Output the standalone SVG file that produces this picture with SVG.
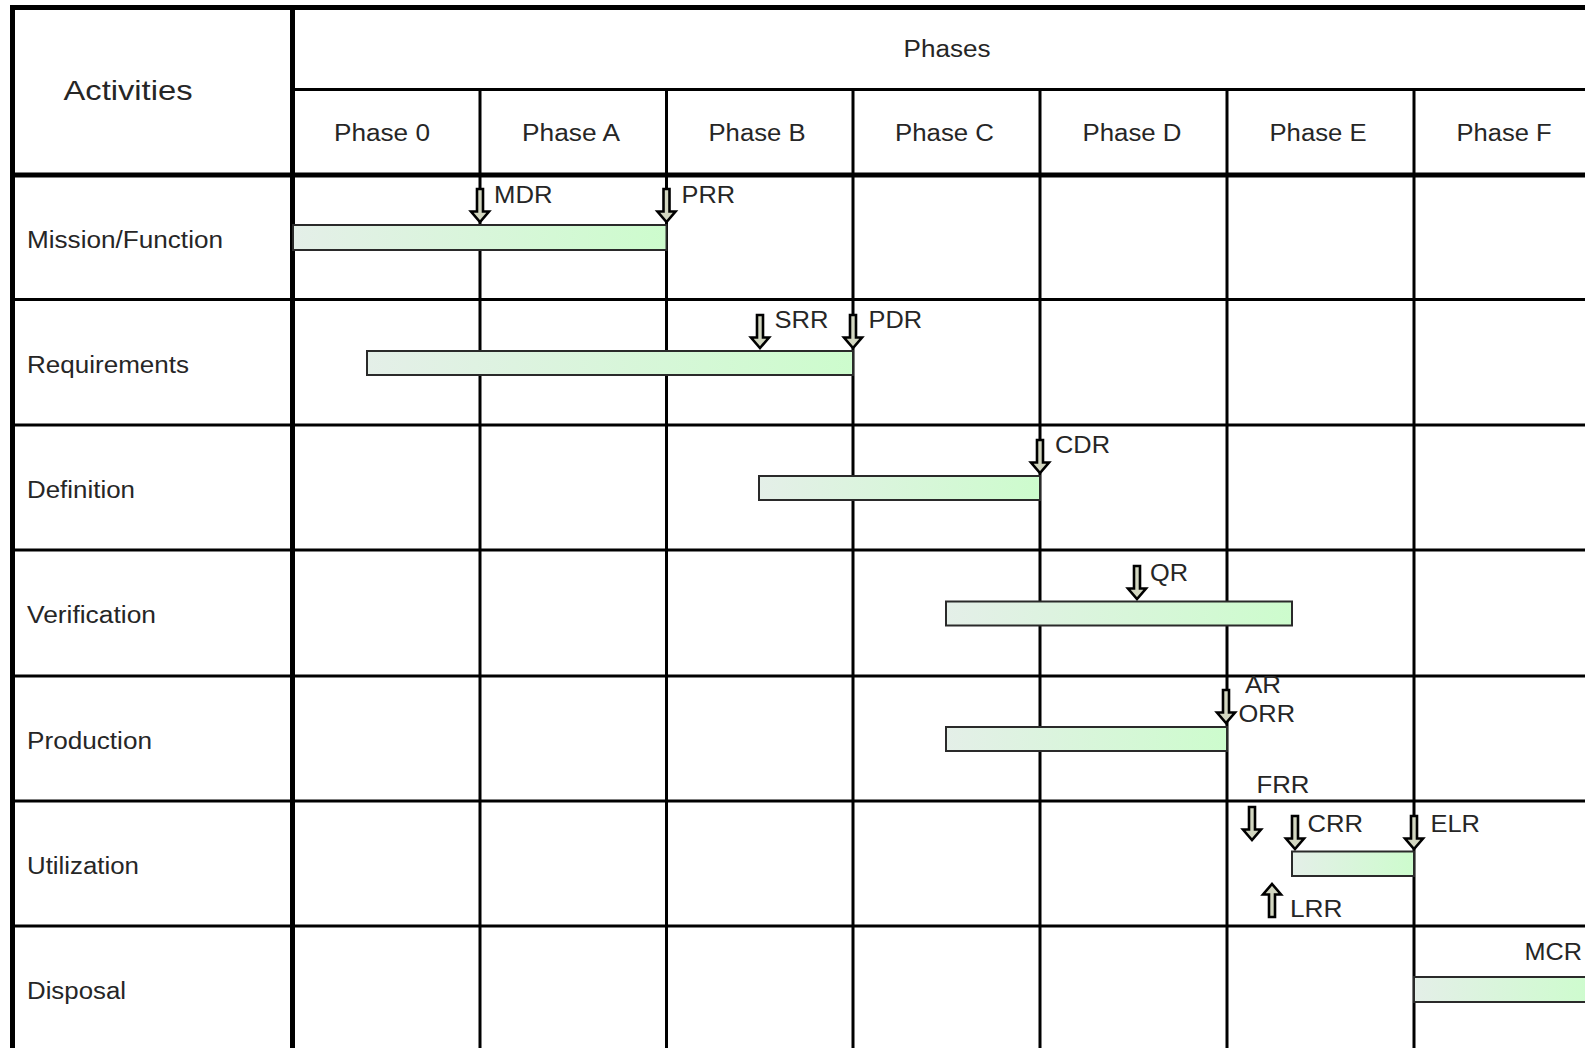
<svg xmlns="http://www.w3.org/2000/svg" xmlns:xlink="http://www.w3.org/1999/xlink" width="1585" height="1048" viewBox="0 0 1585 1048">
<style>
text{font-family:"Liberation Sans",Arial,sans-serif;fill:#262626;}
.lab{font-size:23px;}
.big{font-size:28px;}
.thick{stroke:#000;stroke-width:5;fill:none;}
.thin{stroke:#000;stroke-width:3;fill:none;}
.bar{fill:url(#barGrad);stroke:#2a2a2a;stroke-width:2;}
.arr{fill:#d2d6c0;stroke:#000;stroke-width:2.6;stroke-linejoin:miter;}
</style>
<defs>
<linearGradient id="barGrad" x1="0" y1="0" x2="1" y2="0">
<stop offset="0" stop-color="#e4efe8"/>
<stop offset="1" stop-color="#cdfccd"/>
</linearGradient>
<path id="arrDown" class="arr" d="M-3,-34 H3 V-11.5 H9 L0,-1 L-9,-11.5 H-3 Z"/>
<path id="arrUp" class="arr" d="M-3,34 H3 V11.5 H9 L0,1 L-9,11.5 H-3 Z"/>
</defs>
<rect x="0" y="0" width="1585" height="1048" fill="#fff"/>

<g id="grid">
<line class="thin" x1="293" y1="89.5" x2="1585" y2="89.5"/>
<line class="thin" x1="480" y1="89" x2="480" y2="1048"/>
<line class="thin" x1="666.5" y1="89" x2="666.5" y2="1048"/>
<line class="thin" x1="853" y1="89" x2="853" y2="1048"/>
<line class="thin" x1="1040" y1="89" x2="1040" y2="1048"/>
<line class="thin" x1="1227" y1="89" x2="1227" y2="1048"/>
<line class="thin" x1="1414" y1="89" x2="1414" y2="1048"/>
<line class="thin" x1="12" y1="299.5" x2="1585" y2="299.5"/>
<line class="thin" x1="12" y1="425" x2="1585" y2="425"/>
<line class="thin" x1="12" y1="550" x2="1585" y2="550"/>
<line class="thin" x1="12" y1="676" x2="1585" y2="676"/>
<line class="thin" x1="12" y1="801" x2="1585" y2="801"/>
<line class="thin" x1="12" y1="926" x2="1585" y2="926"/>
<line class="thick" x1="10" y1="7.5" x2="1585" y2="7.5"/>
<line class="thick" x1="10" y1="175" x2="1585" y2="175"/>
<line class="thick" x1="12.5" y1="5" x2="12.5" y2="1048"/>
<line class="thick" x1="292.5" y1="5" x2="292.5" y2="1048"/>
</g>

<g id="header">
<text class="big" x="63.5" y="100" textLength="129" lengthAdjust="spacingAndGlyphs">Activities</text>
<text class="lab" x="947" y="56.5" text-anchor="middle" textLength="87" lengthAdjust="spacingAndGlyphs">Phases</text>
<text class="lab" x="382" y="141" text-anchor="middle" textLength="96" lengthAdjust="spacingAndGlyphs">Phase 0</text>
<text class="lab" x="571" y="141" text-anchor="middle" textLength="98" lengthAdjust="spacingAndGlyphs">Phase A</text>
<text class="lab" x="757" y="141" text-anchor="middle" textLength="97" lengthAdjust="spacingAndGlyphs">Phase B</text>
<text class="lab" x="944.5" y="141" text-anchor="middle" textLength="99" lengthAdjust="spacingAndGlyphs">Phase C</text>
<text class="lab" x="1132" y="141" text-anchor="middle" textLength="99" lengthAdjust="spacingAndGlyphs">Phase D</text>
<text class="lab" x="1318" y="141" text-anchor="middle" textLength="97" lengthAdjust="spacingAndGlyphs">Phase E</text>
<text class="lab" x="1504" y="141" text-anchor="middle" textLength="95" lengthAdjust="spacingAndGlyphs">Phase F</text>
</g>

<g id="row-mission">
<text class="lab" x="27" y="248" textLength="196" lengthAdjust="spacingAndGlyphs">Mission/Function</text>
<rect class="bar" x="293" y="225" width="373.5" height="25"/>
</g>
<g id="row-requirements">
<text class="lab" x="27" y="373" textLength="162" lengthAdjust="spacingAndGlyphs">Requirements</text>
<rect class="bar" x="367" y="351" width="486" height="24"/>
</g>
<g id="row-definition">
<text class="lab" x="27" y="498" textLength="108" lengthAdjust="spacingAndGlyphs">Definition</text>
<rect class="bar" x="759" y="476" width="281" height="24"/>
</g>
<g id="row-verification">
<text class="lab" x="27" y="623" textLength="129" lengthAdjust="spacingAndGlyphs">Verification</text>
<rect class="bar" x="946" y="601.5" width="346" height="24"/>
</g>
<g id="row-production">
<text class="lab" x="27" y="749" textLength="125" lengthAdjust="spacingAndGlyphs">Production</text>
<rect class="bar" x="946" y="727" width="281" height="24"/>
</g>
<g id="row-utilization">
<text class="lab" x="27" y="874" textLength="112" lengthAdjust="spacingAndGlyphs">Utilization</text>
<rect class="bar" x="1292" y="851.5" width="122" height="24.5"/>
</g>
<g id="row-disposal">
<text class="lab" x="27" y="999" textLength="99" lengthAdjust="spacingAndGlyphs">Disposal</text>
<rect class="bar" x="1414" y="977" width="180" height="25"/>
</g>

<g id="milestones">
<g id="ms-mdr"><use xlink:href="#arrDown" href="#arrDown" x="480" y="223"/><text class="lab" x="494" y="202.5" textLength="58.5" lengthAdjust="spacingAndGlyphs">MDR</text></g>
<g id="ms-prr"><use xlink:href="#arrDown" href="#arrDown" x="666.5" y="223"/><text class="lab" x="681.5" y="202.5" textLength="53.5" lengthAdjust="spacingAndGlyphs">PRR</text></g>
<g id="ms-srr"><use xlink:href="#arrDown" href="#arrDown" x="760" y="349"/><text class="lab" x="774.5" y="328" textLength="54" lengthAdjust="spacingAndGlyphs">SRR</text></g>
<g id="ms-pdr"><use xlink:href="#arrDown" href="#arrDown" x="853" y="349"/><text class="lab" x="868.5" y="328" textLength="53.5" lengthAdjust="spacingAndGlyphs">PDR</text></g>
<g id="ms-cdr"><use xlink:href="#arrDown" href="#arrDown" x="1040" y="474"/><text class="lab" x="1055" y="453" textLength="55" lengthAdjust="spacingAndGlyphs">CDR</text></g>
<g id="ms-qr"><use xlink:href="#arrDown" href="#arrDown" x="1137" y="600"/><text class="lab" x="1150" y="581" textLength="38" lengthAdjust="spacingAndGlyphs">QR</text></g>
<g id="ms-ar-orr"><use xlink:href="#arrDown" href="#arrDown" x="1226" y="724"/><text class="lab" x="1245" y="693" textLength="36" lengthAdjust="spacingAndGlyphs">AR</text><text class="lab" x="1238.5" y="721.5" textLength="56.5" lengthAdjust="spacingAndGlyphs">ORR</text></g>
<g id="ms-frr"><use xlink:href="#arrDown" href="#arrDown" x="1252" y="841"/><text class="lab" x="1256.5" y="793" textLength="53" lengthAdjust="spacingAndGlyphs">FRR</text></g>
<g id="ms-crr"><use xlink:href="#arrDown" href="#arrDown" x="1295" y="850"/><text class="lab" x="1307.5" y="832" textLength="55.5" lengthAdjust="spacingAndGlyphs">CRR</text></g>
<g id="ms-elr"><use xlink:href="#arrDown" href="#arrDown" x="1414" y="850"/><text class="lab" x="1430.5" y="831.5" textLength="49.5" lengthAdjust="spacingAndGlyphs">ELR</text></g>
<g id="ms-lrr"><use xlink:href="#arrUp" href="#arrUp" x="1272" y="883"/><text class="lab" x="1290" y="917" textLength="52.5" lengthAdjust="spacingAndGlyphs">LRR</text></g>
<g id="ms-mcr"><text class="lab" x="1524.5" y="960" textLength="57.5" lengthAdjust="spacingAndGlyphs">MCR</text></g>
</g>
</svg>
